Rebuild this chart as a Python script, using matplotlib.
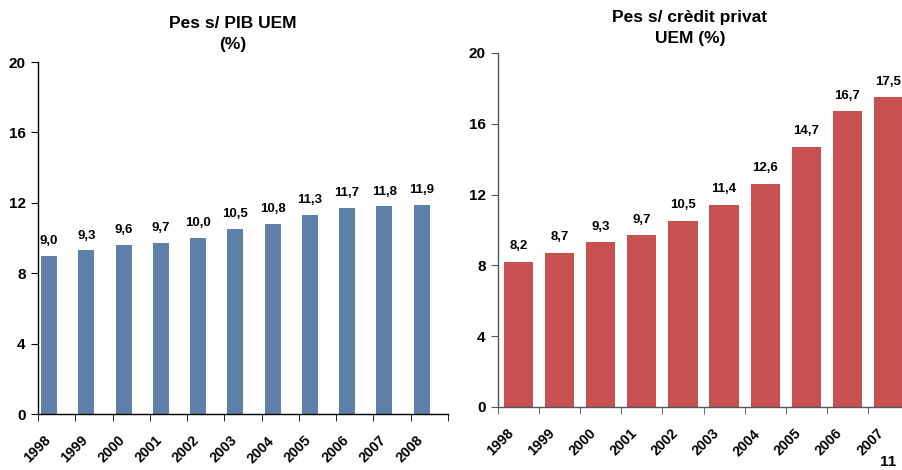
import matplotlib
matplotlib.use("Agg")
import matplotlib.pyplot as plt
import numpy as np

plt.rcParams['font.family'] = ['Liberation Sans', 'DejaVu Sans']
plt.rcParams['font.weight'] = 'bold'

years_left = ['1998', '1999', '2000', '2001', '2002', '2003', '2004', '2005', '2006', '2007', '2008']
pib_values = [9.0, 9.3, 9.6, 9.7, 10.0, 10.5, 10.8, 11.3, 11.7, 11.8, 11.9]

years_right = ['1998', '1999', '2000', '2001', '2002', '2003', '2004', '2005', '2006', '2007']
credit_values = [8.2, 8.7, 9.3, 9.7, 10.5, 11.4, 12.6, 14.7, 16.7, 17.5]

yticks = [0, 4, 8, 12, 16, 20]

title_left = "Pes s/ PIB UEM\n(%)"
title_right = "Pes s/ crèdit privat\nUEM (%)"

blue = '#5E80A9'
red = '#C65150'

fig = plt.figure(figsize=(9.02, 4.70), dpi=100)


def fmt(v):
    return f"{v:.1f}".replace('.', ',')


def style_axes(ax, n, centers, labels, spine_color):
    ax.set_ylim(0, 20)
    ax.set_xlim(0, n)
    ax.set_yticks(yticks)
    ax.set_yticklabels([str(t) for t in yticks], fontsize=11, fontweight='bold')
    ax.set_xticks(np.arange(n + 1), minor=True)
    ax.set_xticks(centers)
    ax.set_xticklabels(labels, rotation=45, ha='right', va='top',
                       rotation_mode='anchor', fontsize=10.2, fontweight='bold')
    ax.tick_params(axis='x', which='major', length=0, pad=14)
    ax.tick_params(axis='x', which='minor', length=5, direction='out', color=spine_color)
    ax.tick_params(axis='y', length=5, direction='out', color=spine_color, pad=4)
    for s in ['top', 'right']:
        ax.spines[s].set_visible(False)
    for s in ['left', 'bottom']:
        ax.spines[s].set_color(spine_color)
        ax.spines[s].set_linewidth(1.0)


# Left panel
axL = fig.add_axes([38 / 902, 1 - 414 / 470, 410 / 902, (414 - 62) / 470])
xL = np.arange(len(years_left)) + 0.295
axL.bar(xL, pib_values, width=0.43, color=blue, zorder=2)
for x, v in zip(xL, pib_values):
    axL.text(x, v + 0.5, fmt(v), ha='center', va='bottom', fontsize=9.5, fontweight='bold')
style_axes(axL, len(years_left), xL - 0.15, years_left, '#000000')

# Right panel
axR = fig.add_axes([498 / 902, 1 - 407 / 470, 411 / 902, (407 - 53) / 470])
xR = np.arange(len(years_right)) + 0.5
axR.bar(xR, credit_values, width=0.71, color=red, zorder=2)
for x, v in zip(xR, credit_values):
    axR.text(x, v + 0.55, fmt(v), ha='center', va='bottom', fontsize=9.5, fontweight='bold')
style_axes(axR, len(years_right), xR - 0.29, years_right, '#555555')

fig.text(233 / 902, 1 - 34 / 470, title_left, ha='center', va='center',
         fontsize=12.5, fontweight='bold', linespacing=1.5)
fig.text(690 / 902, 1 - 28 / 470, title_right, ha='center', va='center',
         fontsize=12.5, fontweight='bold', linespacing=1.5)

fig.text(888 / 902, 1 - 462 / 470, "11", ha='center', va='center',
         fontsize=11, fontweight='bold')

fig.savefig('out.png', dpi=100)
